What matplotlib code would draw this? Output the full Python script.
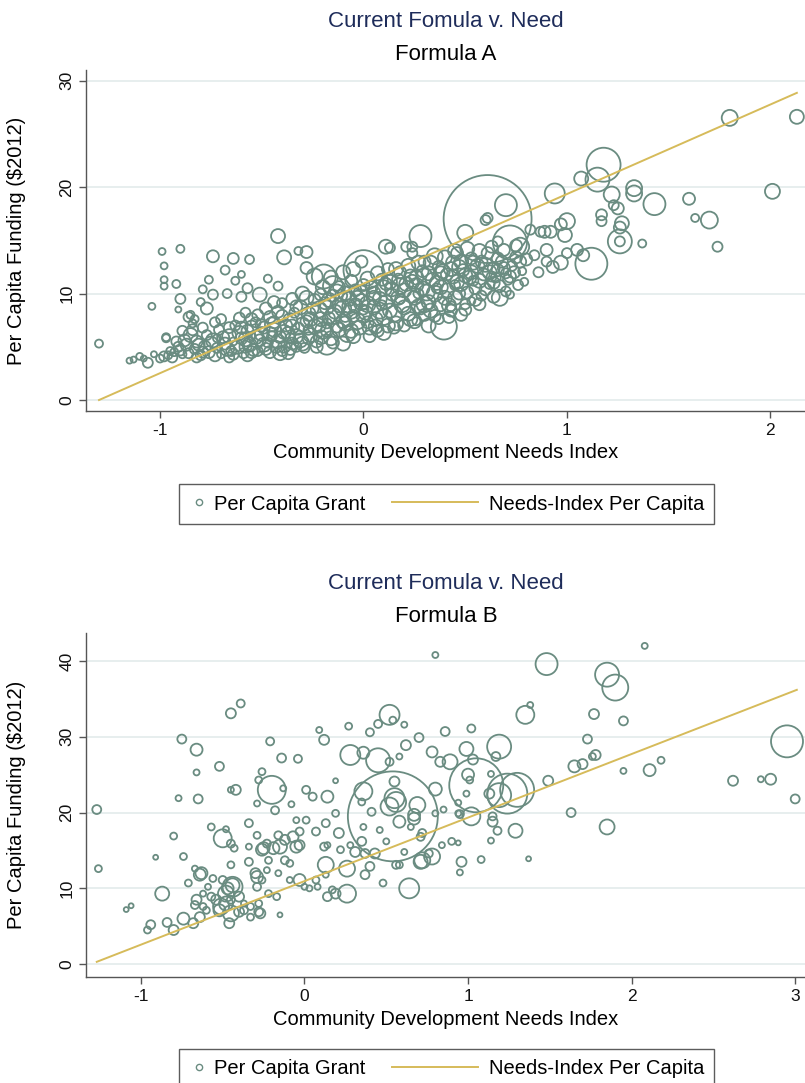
import numpy as np
import matplotlib
matplotlib.use("Agg")
import matplotlib.pyplot as plt
from matplotlib.lines import Line2D
from matplotlib.legend_handler import HandlerLine2D

plt.rcParams['font.family'] = ['Liberation Sans', 'DejaVu Sans']
plt.rcParams['axes.unicode_minus'] = False

# Formula A: needs index, per capita grant ($2012), population weight
a_need = [
    -1.30, -0.99, -0.90, -0.98, -0.98, -0.98, -0.92, -0.90, -0.91, -1.04,
    -0.74, -0.64, -0.56, -0.68, -0.60, -0.63, -0.76, -0.79, -0.74, -0.77,
    -0.80, -0.86, -0.97, -0.42, -0.39, -0.32, -0.28, -0.47, -0.42, -0.28,
    -0.51, -0.60, -0.67, -0.57, 0.00, -0.01, 0.28, 0.11, 0.13, 0.24,
    0.395, 0.26, 0.61, 0.70, 1.18, 1.15, 1.07, 0.94, 1.22, 1.33,
    1.33, 1.43, 1.60, 1.80, 2.13, 2.01, 1.70, 1.63, 1.74, 1.37,
    1.26, 1.26, 1.27, 1.26, 1.25, 1.23, 1.17, 1.17, 1.12, 1.08,
    1.05, 1.00, 0.97, 0.99, 0.92, 0.89, 0.87, 0.90, 0.90, 0.93,
    0.97, 1.00, 0.79, 0.67, 0.72, 0.53, 0.50, 0.60, 0.66, 0.72,
    0.77, 0.80, 0.43, 0.21, 0.24, -0.195, -0.24, -0.15, 0.82, 0.77,
    -0.41, -0.57, -0.18, 0.61,
    -1.15, -1.13, -1.10, -1.08, -1.06, -1.03, -0.98, -0.97, -0.95, -0.93,
    -0.91, -0.89, -0.87, -0.85, -0.84, -0.85, -0.83, -0.82, -0.80, -0.78,
    -0.77, -0.76, -0.74, -0.72, -0.71, -0.70, -0.68, -0.66, -0.65, -0.63,
    -0.62, -0.60, -0.59, -0.57, -0.56, -0.54, -0.53, -0.51, -0.50, -0.48,
    -0.47, -0.46, -0.44, -0.43, -0.41, -0.40, -0.38, -0.37, -0.35, -0.34,
    -0.32, -0.31, -0.29, -0.28, -0.26, -0.25, -0.23, -0.22, -0.20, -0.19,
    -0.17, -0.16, -0.14, -0.13, -0.11, -0.10, -0.08, -0.07, -0.05, -0.04,
    -0.02, -0.01, 0.01, 0.02, 0.04, 0.05, 0.07, 0.08, 0.10, 0.11,
    0.13, 0.14, 0.16, 0.17, 0.19, 0.20, 0.22, 0.23, 0.25, 0.26,
    0.28, 0.29, 0.31, 0.32, 0.34, 0.35, 0.37, 0.38, 0.40, 0.41,
    0.43, 0.44, 0.46, 0.47, 0.49, 0.50, 0.52, 0.53, 0.55, 0.56,
    0.58, 0.59, 0.61, 0.62, 0.64, 0.65, 0.68, 0.70, 0.73, 0.75,
    0.78, -0.72, -0.64, -0.55, -0.45, -0.36, -0.27, -0.18, -0.09, 0.00,
    0.09, 0.18, 0.27, 0.36, 0.45, 0.54, 0.63, -0.52, -0.33, -0.15,
    0.03, 0.20, 0.37, -0.21, -0.06, 0.12, 0.30, 0.46, -0.40, -0.58,
    -0.70, -0.30, -0.12,
    -0.94, -0.90, -0.88, -0.86, -0.84, -0.81, -0.79, -0.79, -0.75, -0.73,
    -0.73, -0.69, -0.67, -0.66, -0.64, -0.61, -0.61, -0.58, -0.58, -0.55,
    -0.55, -0.53, -0.52, -0.49, -0.49, -0.46, -0.46, -0.44, -0.42, -0.42,
    -0.39, -0.39, -0.36, -0.36, -0.33, -0.33, -0.30, -0.30, -0.27, -0.27,
    -0.24, -0.24, -0.21, -0.21, -0.18, -0.18, -0.15, -0.15, -0.12, -0.12,
    -0.09, -0.09, -0.06, -0.06, -0.03, -0.03, 0.00, 0.00, 0.02, 0.03,
    0.05, 0.06, 0.08, 0.09, 0.11, 0.12, 0.14, 0.15, 0.17, 0.18,
    0.20, 0.21, 0.23, 0.24, 0.26, 0.27, 0.29, 0.30, 0.32, 0.33,
    0.35, 0.36, 0.38, 0.39, 0.41, 0.42, 0.44, 0.45, 0.47, 0.48,
    0.50, 0.51, 0.53, 0.55, 0.57, 0.58, 0.60, 0.62, 0.64, 0.66,
    0.67, 0.69, 0.71, 0.74, 0.76, -0.96, -1.00, -0.92, -0.89, -0.83,
    -0.50, -0.45, -0.40, -0.35, -0.31, -0.26, -0.22, -0.17, -0.13, -0.10,
    -0.07, -0.04, -0.01, 0.02, 0.05, 0.07, 0.10, 0.13, 0.16, 0.18,
    0.22, 0.24, 0.27, 0.30, 0.33, 0.35, 0.38, 0.40, 0.43, 0.45,
    0.48, 0.51, 0.54, 0.57, 0.60, 0.63, 0.66, 0.69, 0.72, 0.75,
    -0.60, -0.55, -0.48, -0.44, -0.35, -0.28, -0.20, -0.16, -0.10, -0.05,
    0.06, 0.15, 0.25, 0.30, 0.42, 0.50, 0.57, 0.64, -0.05, -0.23,
    -0.37, -0.66, -0.82, -0.10, 0.10, 0.32, 0.48, 0.70, 0.84, 0.86,
]
a_grant = [
    5.3, 13.95, 14.2, 12.6, 11.3, 10.7, 10.9, 9.5, 8.5, 8.8,
    13.5, 13.3, 13.2, 12.2, 11.8, 11.2, 11.3, 10.4, 9.9, 8.6,
    9.2, 7.8, 5.9, 15.4, 13.4, 14.0, 13.9, 11.4, 10.7, 12.4,
    9.9, 9.7, 10.0, 10.5, 12.2, 13.0, 15.4, 14.4, 14.3, 14.4,
    6.9, 7.4, 17.0, 18.3, 22.1, 20.7, 20.8, 19.4, 19.3, 19.9,
    19.4, 18.4, 18.9, 26.5, 26.6, 19.6, 16.9, 17.1, 14.4, 14.7,
    14.9, 14.9, 16.6, 16.2, 18.0, 18.3, 17.4, 16.8, 12.8, 13.6,
    14.1, 16.8, 16.5, 15.5, 15.8, 15.8, 15.8, 14.1, 13.0, 12.5,
    12.9, 13.8, 11.1, 9.6, 9.9, 9.3, 15.7, 16.9, 14.9, 14.8,
    14.4, 13.2, 8.8, 14.4, 13.8, 11.6, 11.6, 10.7, 16.0, 13.0,
    4.4, 4.2, 5.2, 17.1,
    3.7, 3.8, 4.1, 3.9, 3.5, 4.3, 4.1, 5.8, 4.6, 4.5,
    5.0, 4.3, 5.2, 6.1, 7.2, 8.0, 4.8, 5.5, 4.2, 5.0,
    6.1, 4.5, 5.6, 4.9, 6.6, 4.3, 5.3, 6.0, 4.6, 7.0,
    5.0, 5.8, 4.4, 6.5, 5.2, 4.7, 7.3, 5.6, 6.2, 4.8,
    5.4, 7.8, 6.6, 5.0, 5.9, 4.6, 7.0, 6.2, 5.3, 8.2,
    6.7, 5.6, 4.9, 7.4, 6.1, 8.6, 5.5, 7.0, 6.5, 9.1,
    7.7, 5.8, 8.3, 6.9, 9.8, 7.4, 6.2, 8.8, 7.9, 10.3,
    6.8, 9.2, 8.2, 7.3, 10.6, 8.7, 6.5, 9.5, 7.8, 10.9,
    8.4, 9.9, 7.2, 11.3, 9.0, 10.3, 8.1, 11.7, 9.6, 10.8,
    8.6, 12.1, 10.1, 9.2, 11.3, 7.9, 12.5, 10.6, 9.6, 11.8,
    8.4, 12.9, 11.1, 10.0, 12.2, 9.0, 11.5, 13.3, 10.5, 12.6,
    9.8, 11.8, 13.8, 10.9, 12.4, 11.5, 13.0, 11.9, 12.6, 13.4,
    12.1, 5.8, 5.5, 6.0, 6.0, 5.8, 6.6, 7.2, 7.8, 8.5,
    8.9, 9.5, 10.0, 10.5, 10.8, 11.2, 11.6, 4.6, 5.0, 5.4,
    6.0, 7.0, 7.6, 9.9, 11.2, 12.3, 13.0, 13.8, 9.1, 8.2,
    7.6, 10.0, 10.6,
    4.0, 4.7, 5.6, 4.4, 6.6, 5.2, 4.5, 6.8, 5.3, 4.2,
    7.3, 5.9, 4.8, 6.8, 4.3, 6.3, 7.7, 5.0, 5.7, 4.5,
    6.9, 5.9, 8.0, 5.2, 6.8, 4.5, 6.2, 7.3, 5.5, 8.3,
    6.4, 5.0, 7.5, 4.8, 6.0, 8.8, 7.1, 5.3, 8.1, 5.8,
    6.9, 9.4, 7.6, 5.9, 8.7, 6.5, 7.9, 9.8, 6.6, 8.9,
    7.2, 10.0, 8.4, 6.5, 9.6, 7.4, 10.8, 7.9, 9.0, 6.8,
    10.0, 7.6, 8.4, 11.3, 9.2, 7.0, 10.4, 8.1, 9.6, 12.0,
    8.7, 10.9, 7.6, 9.9, 11.5, 8.8, 10.5, 9.0, 11.9, 8.4,
    10.0, 11.0, 9.0, 12.1, 10.3, 8.9, 11.6, 9.6, 12.5, 10.9,
    11.7, 10.1, 12.0, 9.4, 11.2, 13.0, 10.4, 12.0, 11.0, 13.3,
    10.7, 12.4, 11.3, 12.0, 10.8, 4.2, 3.9, 5.5, 6.5, 7.6,
    7.0, 7.1, 7.9, 6.9, 8.7, 7.6, 8.5, 9.4, 10.2, 8.6,
    9.5, 8.9, 10.0, 11.4, 9.6, 11.9, 10.5, 11.1, 12.3, 10.7,
    12.6, 11.1, 12.9, 11.6, 12.9, 13.5, 11.9, 13.4, 12.3, 14.0,
    13.0, 14.2, 12.9, 14.0, 12.7, 14.4, 12.2, 14.1, 11.6, 14.5,
    6.8, 7.6, 8.6, 9.2, 9.5, 9.6, 10.6, 11.5, 12.0, 12.3,
    6.9, 6.8, 7.4, 8.0, 7.8, 8.5, 9.0, 9.7, 6.0, 5.0,
    4.4, 4.0, 4.0, 5.3, 6.3, 7.0, 8.0, 10.2, 13.6, 12.0,
]
a_pop = [
    16, 12, 16, 12, 12, 12, 16, 25, 9, 12,
    36, 30, 20, 20, 12, 16, 16, 16, 25, 36,
    16, 25, 16, 49, 49, 16, 36, 16, 20, 36,
    49, 25, 20, 25, 400, 36, 121, 49, 25, 25,
    169, 16, 1936, 121, 289, 144, 49, 100, 64, 64,
    64, 121, 36, 64, 49, 56, 72, 16, 25, 16,
    144, 25, 49, 36, 36, 25, 30, 25, 256, 36,
    36, 64, 36, 49, 36, 36, 25, 36, 25, 36,
    49, 25, 16, 64, 16, 16, 64, 25, 25, 289,
    81, 36, 25, 25, 25, 144, 64, 100, 25, 36,
    49, 36, 100, 25,
    9, 9, 12, 9, 25, 9, 25, 16, 16, 16,
    25, 16, 36, 49, 16, 16, 25, 36, 25, 36,
    25, 36, 49, 25, 25, 16, 36, 49, 25, 25,
    49, 36, 25, 36, 49, 36, 25, 36, 49, 36,
    25, 36, 49, 36, 36, 25, 36, 49, 36, 25,
    36, 49, 25, 36, 49, 36, 36, 49, 64, 36,
    36, 49, 49, 36, 36, 49, 64, 49, 36, 36,
    49, 64, 49, 36, 36, 49, 36, 49, 64, 36,
    49, 36, 49, 36, 64, 49, 49, 36, 49, 49,
    36, 36, 64, 49, 49, 36, 36, 49, 49, 36,
    36, 49, 49, 36, 36, 25, 49, 36, 36, 49,
    25, 36, 36, 25, 36, 25, 36, 25, 25, 36,
    16, 16, 16, 16, 25, 25, 25, 25, 25, 25,
    25, 25, 25, 25, 25, 25, 25, 25, 25, 36,
    36, 36, 25, 36, 36, 36, 36, 36, 25, 25,
    25, 49, 36,
    25, 30, 36, 25, 30, 36, 30, 25, 49, 36,
    25, 36, 49, 30, 30, 49, 30, 36, 49, 36,
    36, 49, 30, 49, 36, 36, 49, 36, 49, 36,
    49, 36, 49, 36, 49, 36, 49, 49, 49, 36,
    49, 36, 49, 49, 49, 36, 64, 36, 49, 49,
    49, 49, 64, 49, 49, 64, 36, 49, 64, 49,
    49, 49, 64, 36, 49, 49, 49, 64, 49, 36,
    49, 49, 49, 64, 49, 49, 49, 64, 49, 49,
    64, 49, 49, 49, 49, 49, 49, 49, 49, 49,
    49, 36, 49, 36, 49, 36, 36, 49, 36, 36,
    36, 36, 25, 36, 25, 16, 16, 25, 25, 16,
    36, 49, 36, 49, 49, 49, 64, 49, 49, 64,
    49, 49, 64, 49, 49, 49, 64, 49, 49, 64,
    49, 49, 49, 64, 49, 64, 49, 49, 49, 49,
    49, 49, 49, 49, 49, 36, 36, 36, 36, 36,
    36, 36, 36, 36, 36, 49, 49, 49, 49, 49,
    49, 36, 49, 36, 36, 36, 36, 36, 49, 36,
    36, 25, 25, 49, 49, 49, 36, 25, 25, 25,
]
a_line_x = [-1.30, 2.13]
a_line_y = [0.0, 28.85]

# Formula B
b_need = [
    -1.27, -1.26, -1.09, -1.06, -0.96, -0.94, -0.87, -0.91, -0.80, -0.74,
    -0.77, -0.75, -0.66, -0.66, -0.65, -0.52, -0.45, -0.39, -0.42, -0.21,
    -0.14, -0.04, -0.20, -0.26, -0.28, -0.18, -0.13, -0.50, -0.71, -0.63,
    -0.56, -0.45, -0.57, -0.34, -0.34, -0.34, -0.26, -0.15, -0.07, -0.05,
    -0.03, 0.01, -0.05, 0.05, 0.01, 0.09, 0.12, 0.14, 0.19, 0.27,
    0.28, 0.36, 0.40, 0.45, 0.45, 0.52, 0.54, 0.61, 0.70, 0.62,
    0.58, 0.52, 0.55, 0.54, 0.56, 0.69, 0.67, 0.72, 0.71, 0.64,
    0.48, 0.58, 0.36, 0.41, 0.35, 0.26, 0.19, 0.26, 0.14, 0.17,
    0.37, 0.40, 0.37, 0.22, 0.28, 0.21, 0.13, 0.07, 0.03, -0.15,
    -0.28, -0.33, -0.33, -0.37, -0.46, -0.52, -0.48, -0.54, -0.57, -0.47,
    -0.44, -0.50, -0.40, -0.60, -0.66, -0.67, -0.68, -0.74, -0.80, -0.84,
    -0.62, -0.30, -0.26, -0.22, -0.17, -0.09, -0.09, -0.16, 0.80, 2.08,
    1.48, 1.85, 1.90, 1.35, 1.38, 1.77, 1.95, 1.73, 1.78, 1.76,
    1.70, 1.65, 2.18, 2.11, 1.95, 2.95, 2.62, 2.79, 2.85, 3.00,
    1.85, 1.63, 1.49, 1.37, 1.29, 1.24, 1.30, 1.19, 1.19, 1.17,
    1.02, 0.86, 0.99, 1.03, 0.89, 0.78, 0.83, 1.05, 1.00, 1.01,
    0.99, 1.14, 1.13, 1.02, 0.95, 0.94, 1.15, 1.15, 1.18, 1.14,
    0.85, 0.80, 0.61, 0.76, 0.78, 0.72, 0.84, 0.90, 0.94, 0.96,
    0.95, 1.08, 0.71, 0.12, 0.31, 0.35, 0.43, 0.46, 0.50, 0.56,
    0.52, 0.55, 0.67, 0.65, 0.80, 0.94, 0.36, 0.58, 0.13, 0.19,
    -0.08, -0.29, -0.45, -0.43, -0.29, -0.25, -0.23, -0.19, -0.16, -0.12,
    -0.03, -0.03, -0.22, -0.23, -0.12, 0.00, 0.08, 0.14, -0.29, -0.29,
    -0.28, -0.27, -0.40, -0.37, -0.45, -0.48, -0.44, -0.45, -0.51, -0.62,
    -0.64, -0.67, -0.64, -0.59, -0.48, 0.07, 0.13, -0.45,
]
b_grant = [
    20.4, 12.6, 7.2, 7.7, 4.5, 5.2, 9.3, 14.1, 16.9, 14.2,
    21.9, 29.7, 28.3, 25.3, 21.8, 26.1, 33.1, 34.4, 23.0, 29.4,
    27.2, 27.1, 23.0, 25.4, 24.3, 20.3, 23.2, 16.6, 10.7, 12.0,
    11.3, 13.1, 18.1, 18.6, 15.5, 13.5, 15.1, 15.5, 16.8, 15.5,
    11.1, 19.0, 19.0, 22.1, 23.0, 30.9, 29.6, 22.1, 24.2, 31.4,
    27.6, 27.9, 30.6, 26.9, 31.7, 32.9, 32.2, 31.6, 29.9, 28.9,
    27.4, 26.7, 24.1, 19.5, 21.4, 21.0, 19.2, 17.3, 13.5, 10.0,
    10.7, 13.1, 22.8, 20.1, 21.4, 12.6, 9.3, 9.3, 8.9, 9.8,
    11.8, 12.9, 14.6, 15.1, 15.7, 17.3, 13.1, 11.1, 10.0, 6.5,
    6.9, 6.2, 7.6, 7.1, 5.4, 7.1, 8.0, 8.5, 8.9, 10.0,
    10.4, 11.1, 8.9, 7.1, 8.5, 7.8, 5.4, 6.0, 4.5, 5.5,
    9.3, 12.0, 11.1, 9.3, 8.9, 11.1, 13.3, 12.0, 40.8, 42.0,
    39.6, 38.2, 36.5, 32.9, 34.2, 33.0, 32.1, 29.7, 27.6, 27.4,
    26.4, 26.1, 26.9, 25.6, 25.5, 29.4, 24.2, 24.4, 24.4, 21.8,
    18.1, 20.0, 24.2, 13.9, 17.6, 22.5, 23.0, 22.3, 28.7, 27.4,
    31.1, 30.7, 28.4, 27.0, 26.7, 28.0, 26.7, 23.6, 25.0, 24.3,
    22.5, 25.1, 22.5, 19.5, 19.8, 21.3, 19.5, 18.8, 17.6, 16.3,
    20.4, 23.1, 14.8, 14.6, 14.2, 13.7, 15.7, 16.2, 16.0, 13.5,
    12.1, 13.8, 16.8, 15.5, 14.8, 16.2, 14.6, 17.7, 16.2, 13.1,
    20.8, 21.9, 19.7, 18.1, 19.9, 19.9, 18.1, 18.8, 18.6, 19.9,
    21.1, 21.2, 15.9, 15.3, 17.0, 15.3, 15.9, 15.3, 17.0, 16.4,
    17.5, 15.7, 13.7, 12.4, 13.7, 10.2, 10.2, 15.7, 11.5, 10.2,
    8.0, 6.7, 6.9, 8.0, 8.5, 9.3, 10.2, 6.7, 7.6, 7.6,
    6.2, 12.6, 11.8, 10.2, 17.8, 17.5, 11.8, 23.0,
]
b_pop = [
    20, 12, 6, 6, 12, 20, 49, 6, 12, 12,
    9, 20, 36, 9, 20, 20, 25, 16, 25, 16,
    20, 16, 196, 12, 12, 16, 9, 81, 12, 36,
    12, 12, 12, 16, 9, 16, 36, 49, 30, 36,
    36, 12, 9, 16, 16, 9, 25, 36, 6, 12,
    100, 36, 16, 144, 16, 100, 12, 9, 20, 25,
    9, 16, 25, 2025, 100, 64, 36, 16, 49, 100,
    12, 12, 81, 16, 12, 64, 25, 81, 20, 12,
    20, 20, 20, 12, 9, 25, 64, 12, 9, 6,
    20, 12, 12, 16, 25, 36, 49, 25, 16, 36,
    49, 16, 25, 12, 25, 16, 25, 36, 25, 20,
    9, 25, 12, 12, 12, 9, 12, 9, 9, 9,
    121, 144, 169, 81, 9, 25, 20, 20, 25, 12,
    25, 36, 12, 36, 9, 256, 25, 9, 30, 20,
    56, 20, 25, 6, 49, 400, 289, 144, 144, 20,
    16, 20, 49, 25, 56, 30, 25, 729, 36, 12,
    9, 9, 25, 81, 16, 9, 16, 25, 16, 9,
    9, 42, 9, 16, 64, 64, 9, 12, 6, 25,
    9, 12, 16, 16, 25, 20, 25, 9, 9, 16,
    81, 100, 36, 9, 9, 9, 9, 36, 16, 12,
    9, 9, 16, 12, 12, 36, 16, 36, 16, 25,
    16, 25, 12, 9, 16, 9, 9, 9, 36, 16,
    12, 25, 25, 9, 16, 64, 100, 64, 64, 12,
    25, 9, 36, 9, 9, 16, 9, 9,
]
b_line_x = [-1.27, 3.01]
b_line_y = [0.3, 36.2]

grant_col = '#6a8c81'
need_col = '#d6bb5a'
title_col = '#1e2c5a'
grid_col = '#e3ebeb'
spine_col = '#555555'


class WideLine(HandlerLine2D):
    # legend line that reaches back into the column gap
    def create_artists(self, legend, orig_handle, xdescent, ydescent,
                       width, height, fontsize, trans):
        ext = 3.55 * fontsize
        gap = 0.28 * fontsize
        y = height / 2 - ydescent
        ln = Line2D([-xdescent - ext, width - xdescent - gap], [y, y],
                    color=need_col, lw=1.4)
        ln.set_transform(trans)
        return [ln]


def panel(ax, need, grant, pop, lx, ly, xlim, ylim, xticks, yticks):
    ax.scatter(need, grant, s=np.array(pop) * 2.07, facecolors='none',
               edgecolors=grant_col, linewidths=1.3, zorder=2)
    ax.plot(lx, ly, color=need_col, lw=1.4, zorder=3)
    ax.set_xlim(xlim)
    ax.set_ylim(ylim)
    ax.set_xticks(xticks)
    ax.set_yticks(yticks)
    ax.yaxis.grid(True, color=grid_col, lw=1.2, zorder=0)
    ax.set_axisbelow(True)
    for s in ['top', 'right']:
        ax.spines[s].set_visible(False)
    for s in ['left', 'bottom']:
        ax.spines[s].set_color(spine_col)
        ax.spines[s].set_linewidth(1.0)
    ax.tick_params(direction='out', length=5, width=1, color=spine_col,
                   labelsize=12.5, labelcolor='#111111')
    for t in ax.get_yticklabels():
        t.set_rotation(90)
        t.set_va('center')
    ax.set_xlabel('Community Development Needs Index', fontsize=14.5)
    ax.xaxis.set_label_coords(0.5, -0.095)
    ax.set_ylabel(r'Per Capita Funding (\$2012)', fontsize=14.5)
    ax.yaxis.set_label_coords(-0.083, 0.5)


def add_legend(y):
    h1 = Line2D([], [], ls='none', marker='o', ms=4.5, mfc='none',
                mec=grant_col, mew=1.0)
    h2 = Line2D([], [], color=need_col, lw=1.4)
    leg = fig.legend([h1, h2], ['Per Capita Grant', 'Needs-Index Per Capita'],
                     loc='center', bbox_to_anchor=(0.5547, y), ncol=2,
                     fontsize=14.5, frameon=True, fancybox=False,
                     handlelength=1.0, handletextpad=0.25, columnspacing=4.9,
                     borderpad=0.5, handler_map={h2: WideLine()})
    leg.get_frame().set_edgecolor('#333333')
    leg.get_frame().set_linewidth(1.0)


fig = plt.figure(figsize=(8.05, 10.83), dpi=100)

ax1 = fig.add_axes([0.1068, 0.6205, 0.8932, 0.3149])
panel(ax1, a_need, a_grant, a_pop, a_line_x, a_line_y,
      (-1.364, 2.17), (-1.03, 31.0), [-1, 0, 1, 2], [0, 10, 20, 30])
fig.text(0.554, 0.9806, 'Current Fomula v. Need', ha='center', va='center',
         fontsize=16, color=title_col)
fig.text(0.554, 0.9501, 'Formula A', ha='center', va='center', fontsize=16)
add_legend(0.5346)

ax2 = fig.add_axes([0.1068, 0.0979, 0.8932, 0.3176])
panel(ax2, b_need, b_grant, b_pop, b_line_x, b_line_y,
      (-1.336, 3.06), (-1.7, 43.7), [-1, 0, 1, 2, 3], [0, 10, 20, 30, 40])
fig.text(0.554, 0.4608, 'Current Fomula v. Need', ha='center', va='center',
         fontsize=16, color=title_col)
fig.text(0.554, 0.4303, 'Formula B', ha='center', va='center', fontsize=16)
add_legend(0.0135)

fig.savefig('out.png', dpi=100)
